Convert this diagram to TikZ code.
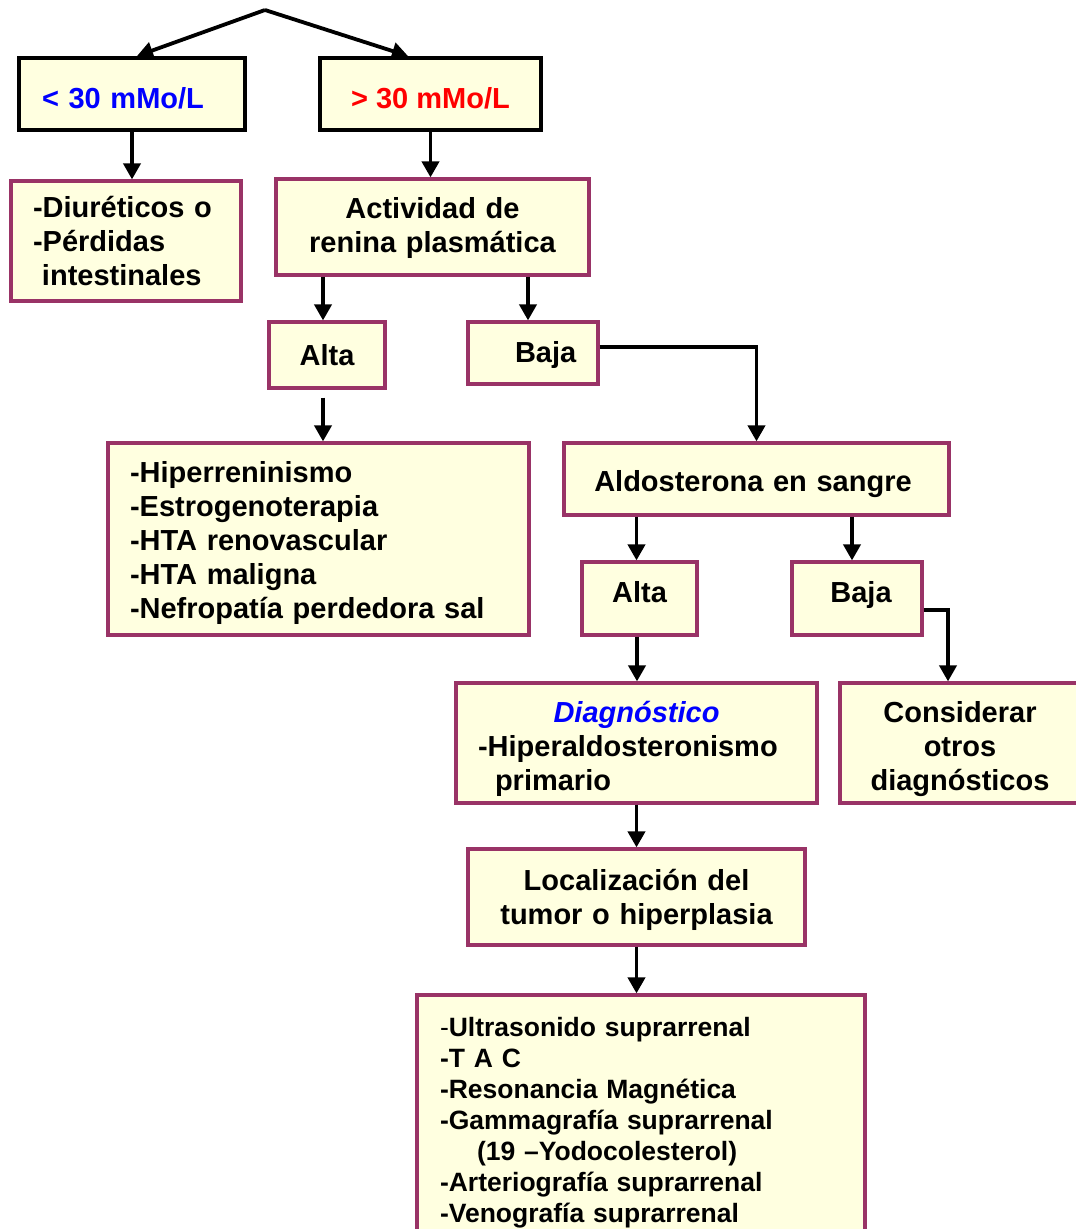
\documentclass[tikz,border=0pt]{standalone}
\usepackage{fontspec}
\setmainfont{Liberation Sans}
\usetikzlibrary{arrows.meta}
\definecolor{boxfill}{RGB}{255,255,224}
\definecolor{boxpurple}{RGB}{153,51,102}
\newcommand{\topgap}[1]{\rule{0pt}{#1pt}}
\begin{document}
\begin{tikzpicture}[x=1pt,y=-1pt,
  bigfont/.style={font=\bfseries\fontsize{29}{34}\selectfont},
  smallfont/.style={font=\bfseries\fontsize{26.5}{31}\selectfont},
  pbox/.style={draw=boxpurple, line width=3.2pt, fill=boxfill, inner ysep=0pt, bigfont},
  kbox/.style={draw=black, line width=4pt, fill=boxfill, inner ysep=0pt, bigfont},
  arr/.style={line width=3.8pt, -{Triangle[length=16pt,width=17pt]}},
  conn/.style={line width=3.8pt}]
\useasboundingbox (0,0) rectangle (1076,1229);

% top boxes
\node[kbox, minimum width=226pt, minimum height=72pt, text width=180pt, inner xsep=23pt, align=left, text=blue] (A) at (132,94) {\topgap{29}< 30 mMo/L};
\node[kbox, minimum width=221pt, minimum height=72pt, inner xsep=0pt, align=center, text=red] (B) at (430.5,94) {\topgap{29}> 30 mMo/L};

\node[pbox, minimum height=120pt, text width=186pt, inner xsep=22pt, align=left] (C) at (126,241) {-Diuréticos o\\-Pérdidas\\\hspace*{9pt}intestinales};
\node[pbox, minimum width=313pt, minimum height=96pt, inner xsep=0pt, text width=313pt, align=center] (D) at (432.5,227) {\topgap{23}Actividad de\\renina plasmática};

\node[pbox, minimum width=116pt, minimum height=66pt, inner xsep=0pt, text width=116pt, align=center] (E) at (327,355) {Alta};
\node[pbox, minimum height=62pt, inner xsep=0pt, text width=130pt, align=left] (F) at (533,353) {\topgap{25}\hspace*{47pt}Baja};

\node[pbox, minimum height=192pt, text width=377pt, inner xsep=22pt, align=left] (G) at (318.5,539) {\topgap{29}-Hiperreninismo\\-Estrogenoterapia\\-HTA renovascular\\-HTA maligna\\-Nefropatía perdedora sal};

\node[pbox, minimum height=72pt, inner xsep=0pt, text width=385pt, align=center] (H) at (756.5,479) {\topgap{31}\hspace*{-7pt}Aldosterona en sangre};

\node[pbox, minimum width=115pt, minimum height=73pt, inner xsep=0pt, text width=115pt, align=center] (I) at (639.5,598.5) {Alta\\[-20pt]\mbox{}};
\node[pbox, minimum height=73pt, inner xsep=0pt, text width=130pt, align=center] (J) at (857,598.5) {\hspace*{8pt}Baja\\[-20pt]\mbox{}};

\node[pbox, minimum height=120pt, text width=317pt, inner xsep=22pt, align=left] (K) at (636.5,743) {\topgap{33}\makebox[\linewidth]{\color{blue}\itshape Diagnóstico}\\-Hiperaldosteronismo\\\hspace*{17pt}primario};
\node[pbox, minimum height=120pt, inner xsep=0pt, text width=240pt, align=center] (L) at (960,743) {\topgap{33}Considerar\\otros\\diagnósticos};

\node[pbox, minimum height=96pt, inner xsep=0pt, text width=337pt, align=center] (M) at (636.5,897) {\topgap{27}Localización del\\tumor o hiperplasia};

\node[pbox, smallfont, minimum height=250pt, text width=402pt, inner xsep=23pt, align=left] (N) at (641,1120) {\topgap{25.5}\textmd{-}Ultrasonido suprarrenal\\-T A C\\-Resonancia Magnética\\-Gammagrafía suprarrenal\\\hspace*{37pt}(19 –Yodocolesterol)\\-Arteriografía suprarrenal\\-Venografía suprarrenal};

% connectors
\coordinate (apex) at (265,10);
\draw[arr] (apex) -- ([xshift=5pt]A.north);
\draw[arr] (apex) -- ([xshift=-22.5pt]B.north);
\draw[arr] (A.south) -- (A.south |- C.north);
\draw[arr] (B.south) -- (B.south |- D.north);
\coordinate (Etop) at ([xshift=-4pt]E.north);
\draw[arr] (Etop |- D.south) -- (Etop);
\coordinate (Ftop) at ([xshift=-5pt]F.north);
\draw[arr] (Ftop |- D.south) -- (Ftop);
\coordinate (Fout) at ([yshift=6pt]F.east);
\draw[arr] (Fout) -| (H.north);
\coordinate (Ebot) at ([xshift=-4pt,yshift=-8pt]E.south);
\draw[arr] (Ebot) -- (Ebot |- G.north);
\coordinate (Itop) at ([xshift=-3pt]I.north);
\draw[arr] (Itop |- H.south) -- (Itop);
\coordinate (Jtop) at ([xshift=-5pt]J.north);
\draw[arr] (Jtop |- H.south) -- (Jtop);
\coordinate (Jout) at ([yshift=-11.5pt]J.east);
\coordinate (Ltip) at ([xshift=-12pt]L.north);
\draw[arr] (Jout) -| (Ltip);
\coordinate (Ibot) at ([xshift=-2.5pt]I.south);
\draw[arr] (Ibot) -- (Ibot |- K.north);
\draw[arr] (K.south) -- (K.south |- M.north);
\draw[arr] (M.south) -- (M.south |- N.north);
\end{tikzpicture}
\end{document}
